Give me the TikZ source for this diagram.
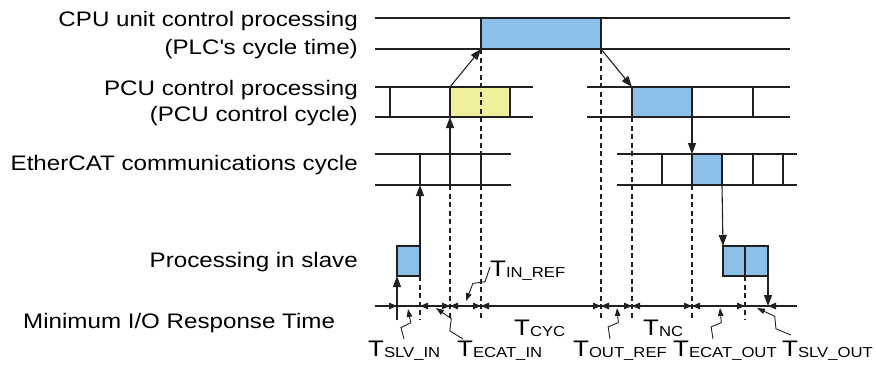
\documentclass[tikz,border=0pt]{standalone}
\usepackage{fontspec}
\setmainfont{Liberation Sans}[FakeStretch=1.15]
\usetikzlibrary{arrows.meta, calc}
\definecolor{cellblue}{HTML}{8DC0E8}
\definecolor{cellyellow}{HTML}{F0F09C}
\definecolor{inkgray}{HTML}{231F20}
\newcommand{\tsym}[1]{{\fontsize{22.5}{24}\selectfont T}{\fontsize{14.5}{15}\selectfont\raisebox{-1pt}{#1}}}

\begin{document}
\begin{tikzpicture}[x=1pt, y=-1pt,
  rowline/.style={draw=inkgray, line width=1.8pt},
  cell/.style={draw=inkgray, line width=1.8pt, inner sep=0pt, outer sep=0pt,
    anchor=north west, minimum height=31pt},
  guide/.style={draw=inkgray, line width=1.1pt, dash pattern=on 5pt off 3.5pt},
  flow/.style={draw=inkgray, line width=1.1pt, -{Triangle[length=11pt,width=8pt]}},
  dimtip/.style={draw=inkgray, line width=1.1pt, -{Triangle[length=8pt,width=6.5pt]}},
  lbl/.style={inner sep=0pt, font=\fontsize{21}{24}\selectfont},
  leader/.style={draw=inkgray, line width=0.9pt, -{Triangle[length=8pt,width=5.5pt]},
    to path={-- ($(\tikztostart)!0.36!(\tikztotarget)!4.5pt!90:(\tikztotarget)$)
      -- ($(\tikztostart)!0.56!(\tikztotarget)!4.5pt!-90:(\tikztotarget)$)
      -- (\tikztotarget)}}]
\useasboundingbox (0,0) rectangle (876,370);

% row labels
\node[lbl, anchor=base east] (cpuA) at (358,26.7) {CPU unit control processing};
\node[lbl, anchor=base east] (cpuB) at (358,54) {(PLC\textquotesingle s cycle time)};
\node[lbl, anchor=base east] (pcuA) at (358,95) {PCU control processing};
\node[lbl, anchor=base east] (pcuB) at (358,121) {(PCU control cycle)};
\node[lbl, anchor=base east] (ecatlbl) at (358,170) {EtherCAT communications cycle};
\node[lbl, anchor=base east] (slvlbl) at (358,267) {Processing in slave};
\node[lbl, anchor=base west] (resplbl) at (23,328) {Minimum I/O Response Time};

% shaded cells
\node[cell, fill=cellblue, minimum width=120pt] (plc) at (481,18) {};
\node[cell, fill=cellyellow, minimum width=60pt, minimum height=30pt] (pcuin) at (450,87) {};
\node[cell, fill=cellblue, minimum width=60pt, minimum height=30pt] (pcuout) at (632,87) {};
\node[cell, fill=cellblue, minimum width=30pt] (ecatout) at (692,154) {};
\node[cell, fill=cellblue, minimum width=23pt, minimum height=30pt] (slvin) at (397,246) {};
\node[cell, fill=cellblue, minimum width=22pt, minimum height=30pt] (slvouta) at (723,246) {};
\node[cell, fill=cellblue, minimum width=23pt, minimum height=30pt] (slvoutb) at (745,246) {};

\coordinate (ecattop) at (0,154);
\coordinate (ecatbot) at (0,185);
\coordinate (axis) at (0,306);
\coordinate (low) at (0,320);

% guide lines
\draw[guide] (plc.south west) -- (plc.south west |- low);
\draw[guide] (plc.south east) -- (plc.south east |- low);
\draw[guide] (pcuout.south west) -- (pcuout.south west |- low);
\draw[guide] (pcuin.south west |- ecatbot) -- (pcuin.south west |- low);
\draw[guide] (ecatout.south west) -- (ecatout.south west |- low);
\draw[guide] (slvin.south east) -- (slvin.south east |- low);
\draw[guide] (slvoutb.south west) -- (slvoutb.south west |- low);

% cycle rows
\draw[rowline] (375,18) -- (790,18) (375,49) -- (790,49);
\draw[rowline] (375,87) -- (533,87) (375,117) -- (533,117)
  (587,87) -- (790,87) (587,117) -- (790,117);
\foreach \x in {390,753} \draw[rowline] (\x,87) -- (\x,117);
\draw[rowline] (375,154) -- (511,154) (375,185) -- (511,185)
  (617,154) -- (797,154) (617,185) -- (797,185);
\foreach \x in {420,450,481,662,753,783} \draw[rowline] (\x,154) -- (\x,185);

% data flow
\draw[flow] (slvin.south west |- low) -- (slvin.south west);
\draw[flow] (slvin.north east) -- (slvin.north east |- ecatbot);
\draw[flow] (pcuin.south west |- ecattop) -- (pcuin.south west);
\draw[flow] (pcuin.north west) -- (plc.south west);
\draw[flow] (plc.south east) -- (pcuout.north west);
\draw[flow] (pcuout.south east) -- (ecatout.north west);
\draw[flow] (ecatout.south east) -- (slvouta.north west);
\draw[flow] (slvoutb.south east) -- (slvoutb.south east |- axis);

% time axis
\draw[draw=inkgray, line width=1.1pt] (375,306) -- (797,306);
\foreach \x in {397,450,481,601,632,692,745} \draw[dimtip] (\x-9,306) -- (\x,306);
\foreach \x in {420,450,481,601,632,692,768} \draw[dimtip] (\x+9,306) -- (\x,306);

% time labels
\node[lbl, anchor=base west] (tslvin) at (368,356.7) {\tsym{SLV\_IN}};
\node[lbl, anchor=base west] (tecatin) at (457,356.7) {\tsym{ECAT\_IN}};
\node[lbl, anchor=base west] (tinref) at (490,276.7) {\tsym{IN\_REF}};
\node[lbl, anchor=base west] (tcyc) at (514,335) {\tsym{CYC}};
\node[lbl, anchor=base west] (toutref) at (573,356.7) {\tsym{OUT\_REF}};
\node[lbl, anchor=base west] (tnc) at (643,335) {\tsym{NC}};
\node[lbl, anchor=base west] (tecatout) at (673,356.7) {\tsym{ECAT\_OUT}};
\node[lbl, anchor=base west] (tslvout) at (782,356.7) {\tsym{SLV\_OUT}};

\coordinate (eslvin) at (408,309);
\coordinate (eecatin) at (436,308);
\coordinate (einref) at (466,301);
\coordinate (eoutref) at (617,308);
\coordinate (eecatout) at (720,308);
\coordinate (eslvout) at (757,308);

\draw[leader] ([xshift=36pt, yshift=2pt]tslvin.north west) to (eslvin);
\draw[leader] ([xshift=6pt, yshift=2pt]tecatin.north west) to (eecatin);
\draw[leader] ([yshift=4pt]tinref.west) to (einref);
\draw[leader] ([xshift=37pt, yshift=2pt]toutref.north west) to (eoutref);
\draw[leader] ([xshift=40pt, yshift=2pt]tecatout.north west) to (eecatout);
\draw[leader] ([xshift=9pt, yshift=6pt]tslvout.north west) to (eslvout);
\end{tikzpicture}
\end{document}
